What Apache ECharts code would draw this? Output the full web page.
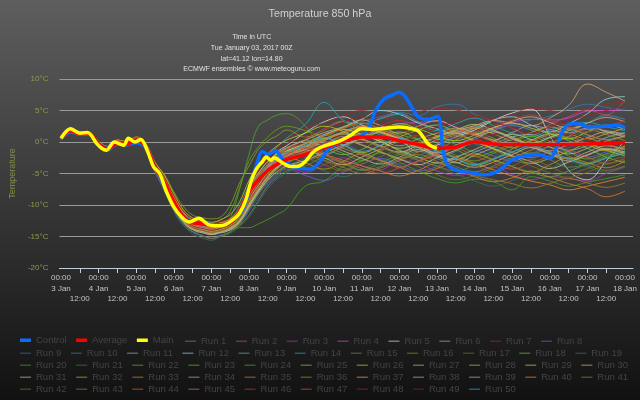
<!DOCTYPE html>
<html>
<head>
<meta charset="utf-8">
<script src="https://cdn.jsdelivr.net/npm/echarts@6/dist/echarts.min.js"></script>
<style>html,body{margin:0;padding:0;background:#111}#c{width:640px;height:400px}</style>
</head>
<body>
<div id="c"></div>
<script>
// ---- data ----
const startDay = 3;
const hours = [0,6,12,18,24,30,36,42,48,54,60,66,72,78,84,90,96,102,108,114,120,126,132,138,144,156,168,180,192,204,216,228,240,252,264,276,288,300,312,324,336,348,360];
const averageValues = [0.6,1.8,1.3,1.3,-0.3,-1.1,-0.2,-0.3,0.3,-0.7,-4.0,-6.5,-9.5,-11.8,-12.8,-13.0,-13.2,-13.2,-12.8,-11.0,-7.9,-6.0,-4.5,-3.5,-2.8,-2.0,-0.9,0.1,0.8,0.8,0.2,-0.4,-1.0,-0.8,0.0,-0.3,-0.4,-0.4,-0.4,-0.4,-0.3,-0.2,-0.1];
const controlHours = [0,6,12,18,24,30,36,42,48,54,60,66,72,78,84,90,96,102,108,114,118,121,124.5,128.6,132,137,141,147.7,154,159.4,164.7,169,173,179.6,186,192,196.5,200.8,206,211,216,220,224,228,234.7,240.5,244,247,254,260,271,279,288,294,305,312,316,319.4,324.7,330,336.4,347,355.5,360];
const controlValues = [0.5,1.6,1.2,1.3,-0.3,-1.0,-0.3,-0.4,-0.1,-0.8,-4.0,-6.8,-9.8,-11.8,-12.7,-12.9,-13.1,-13.2,-12.8,-11.5,-9.5,-6.8,-3.9,-1.5,-2.0,-1.4,-2.6,-3.9,-4.2,-4.3,-3.3,-1.7,-0.7,0.1,0.6,1.0,2.3,5.0,6.8,7.4,7.9,7.1,5.5,4.0,3.6,4.1,-1.5,-3.7,-4.6,-4.8,-5.2,-4.6,-2.8,-2.3,-2.0,-2.6,-1.0,1.3,2.9,2.9,2.4,2.5,2.7,2.2];
const mainHours = [0,6,12,17,23,26,29,34,40,43,47,51,55,59,63,67,72,77,82,88,94,101,105,110,114,118,121,124.5,128.6,131,134,136,141.4,146.7,152,156,160.5,164.7,171,177.4,183.8,192,198.6,207,215.6,222,228.3,234.7,240];
const mainValues = [0.6,2.1,1.4,1.5,-0.3,-1.0,-1.3,0.0,-0.5,0.6,0.0,0.4,-1.3,-3.9,-5.0,-7.7,-10.3,-11.9,-12.7,-12.1,-13.1,-13.3,-13.1,-12.3,-11.3,-9.2,-6.5,-4.4,-3.1,-2.4,-2.9,-2.5,-3.3,-3.9,-3.8,-3.1,-1.7,-1.0,-0.4,0.1,0.9,2.1,2.0,2.2,2.4,2.2,1.7,-0.4,-1.0];
const runValues = [
[0.4,1.7,1.2,1.1,-0.5,-1.3,0.2,-0.5,0.4,-0.9,-4.3,-7.2,-10.4,-12.5,-13.6,-13.9,-14.3,-13.8,-13.2,-11.5,-8.6,-6.2,-4.1,-2.7,-1.8,-0.9,0.5,1.6,2.4,1.1,0.6,-0.8,-2.2,-1.5,0.3,1.8,2.6,1.9,0.7,1.4,3.0,4.2,3.6],
[0.7,2.0,1.5,1.4,-0.2,-0.9,-0.1,-0.2,0.6,-0.5,-3.8,-6.0,-9.0,-11.6,-12.9,-13.4,-13.0,-12.8,-12.5,-10.4,-7.0,-4.8,-3.6,-2.0,-1.2,0.4,2.1,3.3,2.5,3.8,4.5,3.2,2.0,1.1,2.5,3.4,2.2,1.0,2.8,4.0,5.1,4.3,6.7],
[0.5,1.8,1.3,1.2,-0.4,-1.2,-0.3,-0.4,0.2,-0.8,-4.1,-6.6,-9.9,-12.1,-13.3,-13.8,-14.0,-13.6,-13.0,-11.8,-9.1,-7.2,-5.6,-4.2,-3.9,-4.8,-3.6,-2.5,-3.8,-4.4,-2.9,-3.5,-4.6,-5.3,-4.9,-4.0,-5.2,-6.0,-5.5,-5.8,-6.2,-5.0,-4.0],
[0.6,1.9,1.4,1.2,-0.3,-1.0,0.1,-0.3,0.5,-0.6,-3.9,-6.3,-9.3,-11.5,-12.6,-13.1,-13.5,-13.4,-12.9,-11.2,-8.0,-5.9,-4.0,-2.9,-2.0,-1.4,-0.6,0.3,1.0,2.2,2.9,3.1,3.3,2.4,1.7,2.0,3.1,3.6,3.5,3.8,4.9,5.0,5.1],
[0.5,1.8,1.3,1.4,-0.1,-0.8,0.3,0.0,0.7,-0.4,-3.5,-5.8,-8.8,-11.2,-12.4,-12.8,-13.3,-13.4,-13.0,-11.9,-9.5,-6.4,-3.8,-1.6,-0.6,1.5,3.2,4.0,2.7,1.6,0.4,-1.5,-0.5,0.8,1.9,3.4,4.6,5.2,1.0,-4.5,-6.0,-3.0,0.2],
[0.6,1.7,1.2,1.2,-0.4,-1.1,-0.2,-0.5,0.2,-0.9,-4.4,-7.0,-10.1,-12.4,-13.5,-13.6,-13.9,-14.1,-13.7,-12.5,-10.0,-7.8,-5.5,-4.0,-3.0,-1.8,-0.4,0.9,0.4,-0.8,-1.6,-0.4,0.9,1.6,1.2,0.3,1.5,2.6,2.0,1.4,2.2,1.8,1.3],
[0.8,2.1,1.6,1.5,0.0,-0.7,0.2,0.1,0.8,-0.3,-3.3,-5.5,-8.5,-10.9,-12.2,-12.6,-12.8,-12.6,-12.0,-10.3,-6.9,-3.5,-1.6,-0.8,0.4,2.2,3.0,4.2,5.0,4.1,3.4,4.7,5.3,5.1,4.2,3.6,4.4,5.4,5.0,4.5,5.2,6.0,6.4],
[0.5,1.6,1.1,1.1,-0.6,-1.4,-0.5,-0.6,0.1,-1.1,-4.6,-7.5,-10.8,-12.9,-14.3,-14.9,-15.3,-14.8,-14.3,-13.0,-10.8,-8.2,-6.6,-5.2,-4.3,-5.3,-6.1,-4.8,-3.5,-2.6,-3.7,-4.6,-3.9,-2.5,-1.4,-2.2,-3.0,-1.9,-0.8,-1.5,-2.4,-1.6,-0.9],
[0.4,1.6,1.1,1.0,-0.7,-1.5,-0.4,-0.7,0.0,-1.2,-4.8,-7.8,-11.0,-13.2,-14.2,-14.4,-14.6,-14.8,-14.2,-13.1,-11.0,-8.8,-6.9,-5.3,-4.0,-2.6,-1.3,-0.4,-1.6,-2.8,-3.5,-2.2,-0.8,0.6,-0.3,-1.7,-2.8,-3.4,-2.1,-0.9,-0.2,-1.1,-2.0],
[0.6,1.9,1.3,1.3,-0.2,-1.0,0.0,-0.2,0.5,-0.6,-3.9,-6.4,-9.6,-11.9,-13.0,-13.2,-13.5,-13.1,-12.6,-10.9,-7.6,-5.1,-3.2,-2.0,-1.3,-0.5,0.6,1.5,3.2,4.0,4.7,4.2,5.6,6.0,4.4,3.3,2.8,3.5,4.1,5.2,6.0,5.5,5.0],
[0.5,1.8,1.3,1.2,-0.3,-1.1,-0.1,-0.4,0.3,-0.7,-4.0,-6.7,-9.8,-12.1,-13.4,-13.6,-13.3,-13.0,-12.5,-11.0,-8.1,-6.0,-4.8,-3.5,-2.4,-1.2,-2.0,-0.7,0.6,1.8,0.9,-0.5,-1.9,-2.8,-1.6,-0.4,0.8,1.2,0.1,-1.3,-0.6,0.7,1.5],
[0.6,1.7,1.2,1.3,-0.4,-1.2,-0.2,-0.3,0.4,-0.7,-4.2,-6.9,-10.0,-12.2,-13.7,-14.2,-14.5,-14.0,-13.5,-12.6,-10.4,-7.1,-4.3,-2.6,-1.5,-0.2,1.2,2.3,3.6,5.0,4.4,3.0,2.1,1.3,2.2,3.5,4.0,2.7,1.6,2.9,4.5,6.8,7.2],
[0.7,2.0,1.5,1.4,-0.1,-0.9,0.1,-0.1,0.6,-0.5,-3.7,-6.1,-9.2,-11.7,-12.9,-13.3,-13.6,-13.7,-13.3,-12.0,-9.4,-6.8,-4.9,-3.3,-2.3,-1.4,-0.3,1.1,2.3,1.4,0.2,-0.9,0.4,1.6,2.4,1.7,0.5,-0.6,0.8,2.0,1.1,0.4,1.0],
[0.5,1.8,1.3,1.2,-0.3,-1.0,-0.1,-0.3,0.4,-0.8,-4.1,-6.6,-9.4,-11.6,-12.8,-13.0,-13.2,-12.9,-12.2,-10.1,-6.8,-4.2,-2.1,-0.8,0.6,2.8,6.3,3.5,2.9,3.7,4.4,3.2,1.8,2.9,3.8,2.6,1.4,0.8,1.9,2.6,3.1,2.4,1.8],
[0.4,1.6,1.2,1.1,-0.5,-1.3,-0.3,-0.6,0.1,-1.0,-4.5,-7.3,-10.6,-12.8,-13.9,-14.3,-14.6,-14.2,-13.9,-13.2,-11.6,-9.3,-7.0,-5.6,-4.6,-3.8,-2.6,-3.4,-4.5,-3.9,-2.7,-1.5,-2.6,-3.9,-4.7,-3.8,-2.5,-1.7,-2.8,-4.0,-3.4,-2.2,-1.5],
[0.6,1.9,1.4,1.3,-0.2,-1.0,0.0,-0.2,0.5,-0.5,-3.6,-5.6,-8.4,-10.8,-12.0,-12.3,-12.7,-12.4,-11.0,-7.2,-3.0,-0.8,0.8,2.0,2.5,1.8,1.0,2.2,3.0,2.1,1.2,0.3,-0.9,-2.1,-3.0,-1.8,-0.6,0.4,-0.8,-2.2,-3.4,-2.5,-1.4],
[0.5,1.7,1.2,1.2,-0.4,-1.2,-0.2,-0.4,0.3,-0.8,-4.2,-6.8,-10.0,-12.3,-13.4,-13.9,-14.2,-13.9,-13.4,-12.2,-9.8,-7.5,-5.8,-4.4,-3.2,-2.2,-3.0,-4.4,-3.1,-1.8,-2.6,-3.9,-5.2,-6.0,-5.3,-4.1,-3.0,-3.8,-4.9,-5.6,-4.8,-3.6,-2.9],
[0.7,2.0,1.4,1.3,-0.2,-0.9,0.1,-0.1,0.6,-0.4,-3.5,-5.9,-8.9,-11.3,-12.5,-12.9,-13.1,-12.8,-12.2,-10.6,-7.3,-4.9,-3.1,-1.9,-1.0,0.2,-0.9,-2.0,-1.2,0.5,1.6,0.4,-1.0,-2.6,-3.7,-2.8,-1.1,0.3,1.2,0.2,-1.0,-2.4,-3.3],
[0.5,1.8,1.3,1.2,-0.3,-1.1,-0.1,-0.3,0.4,-0.7,-4.0,-6.5,-9.6,-11.9,-13.1,-13.5,-13.8,-13.6,-13.1,-11.7,-8.9,-6.5,-4.6,-3.0,-2.0,-1.0,0.3,1.3,0.5,-0.7,-1.8,-1.1,0.2,1.0,0.3,-0.9,-1.8,-0.6,0.6,1.4,0.8,-0.3,-0.9],
[0.6,1.8,1.3,1.3,-0.3,-1.0,0.0,-0.3,0.4,-0.6,-3.9,-6.3,-9.3,-11.6,-12.8,-13.2,-13.6,-14.1,-14.0,-13.6,-13.6,-13.0,-12.3,-11.5,-10.6,-7.0,-6.2,-3.9,-3.0,-1.7,-3.2,-4.6,-5.8,-6.5,-5.9,-6.3,-7.6,-5.5,-6.2,-7.0,-6.4,-5.8,-5.2],
[0.4,1.6,1.1,1.1,-0.6,-1.4,-0.4,-0.5,0.2,-1.0,-4.5,-7.4,-10.7,-13.0,-14.6,-15.2,-15.6,-15.0,-14.5,-13.4,-11.9,-9.6,-7.4,-5.9,-4.9,-3.7,-4.6,-5.5,-4.3,-3.0,-1.9,-2.8,-4.0,-5.1,-6.2,-7.0,-6.1,-5.0,-4.2,-3.1,-4.0,-4.8,-3.9],
[0.7,2.1,1.5,1.4,-0.1,-0.8,0.2,0.0,0.7,-0.3,-3.3,-5.2,-7.9,-10.2,-11.6,-12.0,-12.2,-11.9,-10.0,-6.5,-3.8,-1.2,0.2,1.0,1.9,0.8,1.9,3.2,1.6,0.3,-1.4,-2.5,-1.3,0.3,1.5,0.6,-0.8,-1.9,-0.6,0.9,2.0,1.2,0.2],
[0.5,1.7,1.2,1.1,-0.4,-1.2,-0.3,-0.5,0.2,-0.9,-4.3,-7.1,-10.3,-12.6,-13.8,-14.1,-14.4,-14.0,-13.6,-12.4,-10.0,-7.7,-5.7,-4.1,-3.3,-2.1,-0.9,-1.8,-2.9,-1.4,0.1,1.0,0.2,-1.2,-2.3,-1.5,-0.2,0.9,-0.3,-1.6,-2.7,-1.9,-1.0],
[0.6,1.9,1.4,1.3,-0.2,-1.0,0.1,-0.2,0.5,-0.6,-3.8,-6.2,-9.1,-11.4,-12.6,-13.0,-13.3,-13.2,-12.0,-7.5,-2.0,2.5,3.5,4.3,4.5,2.5,-1.8,-3.2,-4.4,-3.3,-2.0,-0.8,0.6,-0.4,-1.7,-2.9,-3.9,-4.8,-5.5,-4.6,-3.5,-2.5,-1.9],
[0.5,1.8,1.3,1.2,-0.3,-1.1,-0.2,-0.4,0.3,-0.8,-4.1,-6.7,-9.8,-12.0,-13.2,-13.7,-14.1,-13.9,-13.3,-12.0,-9.2,-6.9,-5.0,-3.4,-2.6,-1.6,-0.5,0.5,1.3,0.4,-0.6,0.5,1.4,2.2,1.4,0.3,-0.9,0.2,1.3,0.6,-0.5,-1.3,-0.7],
[0.8,2.2,1.6,1.5,0.1,-0.7,0.3,0.1,0.8,-0.2,-3.2,-5.3,-8.2,-10.7,-12.1,-12.5,-12.8,-12.3,-11.5,-9.5,-6.1,-3.6,-1.9,-0.6,0.3,1.4,2.5,1.7,0.6,1.8,2.9,2.1,1.0,0.2,1.1,2.3,3.0,2.2,1.3,0.5,1.6,2.7,2.0],
[0.6,1.8,1.3,1.2,-0.3,-1.0,-0.1,-0.3,0.4,-0.7,-4.0,-6.5,-9.7,-12.0,-13.3,-13.8,-14.2,-14.4,-13.9,-12.7,-10.2,-7.9,-5.9,-4.2,-3.0,-1.9,-0.7,0.4,1.1,0.0,-1.3,-2.4,-3.3,-2.4,-1.2,0.1,1.2,0.4,-0.8,-1.9,-1.0,0.1,0.9],
[0.5,1.7,1.2,1.2,-0.4,-1.2,-0.2,-0.4,0.3,-0.8,-4.2,-6.9,-10.1,-12.4,-13.6,-14.0,-14.3,-13.9,-13.2,-11.8,-9.0,-6.6,-4.5,-3.1,-2.1,-0.8,0.6,-0.5,-1.7,-0.6,0.8,1.9,2.7,1.5,0.2,-1.0,-2.2,-3.4,-2.6,-1.5,-0.4,-1.3,-2.2],
[0.7,2.0,1.5,1.4,-0.1,-0.9,0.1,-0.1,0.6,-0.4,-3.6,-5.9,-8.8,-11.2,-12.5,-12.9,-13.2,-13.0,-12.4,-10.8,-7.6,-5.3,-3.6,-2.3,-1.4,-0.3,1.0,2.0,1.2,0.1,-1.0,-0.2,0.9,1.9,2.8,1.9,0.8,-0.2,0.7,1.8,2.6,1.6,0.8],
[0.6,1.9,1.4,1.3,-0.2,-1.0,0.0,-0.2,0.5,-0.6,-3.9,-6.4,-9.5,-11.8,-13.0,-13.4,-13.6,-13.3,-12.8,-11.4,-8.5,-6.2,-4.4,-3.0,-2.2,-1.3,-2.5,-3.6,-2.4,-1.1,0.2,-0.9,-2.1,-3.2,-4.0,-3.2,-2.0,-0.9,-1.8,-2.7,-1.6,-0.6,-1.2],
[0.5,1.7,1.2,1.1,-0.5,-1.3,-0.3,-0.5,0.2,-0.9,-4.4,-7.2,-10.5,-12.7,-13.9,-14.4,-14.7,-14.3,-13.7,-12.5,-9.9,-7.6,-5.5,-4.0,-3.1,-2.0,-0.8,0.4,-0.5,-1.6,-2.7,-3.6,-2.5,-1.3,-0.2,-1.1,-2.2,-3.1,-4.2,-3.2,-2.1,-1.2,-1.8],
[0.6,1.8,1.3,1.3,-0.3,-1.0,0.0,-0.3,0.4,-0.6,-3.9,-6.3,-9.4,-11.7,-12.9,-13.3,-13.5,-13.2,-12.6,-11.1,-8.1,-5.7,-3.9,-2.5,-1.6,-0.6,0.5,1.6,2.4,1.5,0.4,-0.6,0.3,1.4,2.2,1.3,0.4,1.5,2.4,1.4,0.5,1.3,2.2],
[0.7,2.0,1.4,1.4,-0.1,-0.9,0.1,-0.1,0.6,-0.5,-3.6,-5.9,-8.9,-11.3,-12.6,-13.0,-13.3,-13.1,-12.6,-11.3,-8.6,-6.4,-4.7,-3.3,-2.5,-3.3,-4.3,-3.1,-1.9,-2.9,-4.0,-5.0,-4.2,-3.0,-1.9,-2.8,-3.9,-4.8,-3.6,-2.5,-3.3,-4.1,-3.0],
[0.5,1.8,1.3,1.2,-0.3,-1.1,-0.1,-0.3,0.3,-0.7,-4.1,-6.6,-9.7,-12.0,-13.2,-13.6,-13.9,-13.6,-13.1,-11.8,-9.1,-6.8,-4.8,-3.2,-2.3,-1.2,0.2,1.3,0.5,-0.6,-1.6,-0.5,0.7,1.8,2.6,3.4,3.0,2.6,3.8,5.8,9.2,7.9,6.5],
[0.6,1.9,1.3,1.3,-0.2,-1.0,0.0,-0.2,0.5,-0.6,-3.8,-6.2,-9.2,-11.6,-12.8,-13.2,-13.4,-13.1,-12.6,-11.0,-7.9,-5.6,-3.8,-2.5,-1.7,-0.7,-1.9,-2.9,-3.8,-4.6,-5.4,-4.5,-3.4,-4.3,-5.5,-6.3,-5.7,-4.6,-5.6,-6.6,-7.4,-8.7,-7.8],
[0.5,1.7,1.2,1.2,-0.4,-1.2,-0.2,-0.4,0.3,-0.8,-4.2,-6.8,-10.0,-12.3,-13.5,-14.0,-14.4,-14.1,-13.5,-12.3,-9.7,-7.3,-5.3,-3.8,-2.9,-1.8,-0.6,0.6,-0.4,-1.5,-2.6,-1.6,-0.3,1.0,0.1,-1.2,-2.3,-1.3,-0.2,0.8,-0.3,-1.4,-0.6],
[0.7,2.0,1.5,1.4,-0.1,-0.8,0.2,0.0,0.7,-0.4,-3.5,-5.8,-8.7,-11.1,-12.4,-12.8,-13.1,-12.8,-12.2,-10.5,-7.3,-4.9,-3.1,-1.8,-0.9,0.3,1.5,2.4,3.5,2.6,1.4,2.5,3.4,2.3,1.2,2.2,3.3,4.0,3.1,2.2,3.0,3.9,3.2],
[0.6,1.8,1.3,1.2,-0.3,-1.1,-0.1,-0.3,0.4,-0.7,-4.0,-6.6,-9.7,-12.0,-13.2,-13.6,-13.8,-13.5,-12.9,-11.5,-8.7,-6.4,-4.6,-3.2,-2.4,-1.4,-0.3,-1.4,-2.6,-3.5,-2.4,-1.2,-2.3,-3.3,-2.1,-0.9,0.3,-0.8,-1.9,-3.0,-2.0,-1.0,-1.6],
[0.5,1.7,1.2,1.1,-0.5,-1.3,-0.3,-0.5,0.2,-0.9,-4.4,-7.1,-10.4,-12.6,-13.8,-14.2,-14.6,-14.4,-13.9,-12.8,-10.3,-8.0,-6.1,-4.7,-3.8,-2.9,-1.7,-0.5,0.6,1.5,0.5,-0.6,-1.7,-0.5,0.7,1.6,0.6,-0.5,-1.4,-0.4,0.7,1.6,1.0],
[0.6,1.9,1.4,1.3,-0.2,-1.0,0.0,-0.2,0.5,-0.6,-3.8,-6.1,-9.1,-11.5,-12.7,-13.1,-13.4,-13.2,-12.7,-11.2,-8.2,-5.9,-4.0,-2.6,-1.8,-0.8,0.3,1.4,2.5,1.7,0.7,-0.4,-1.4,-2.4,-3.4,-4.4,-5.4,-6.2,-6.8,-7.6,-7.0,-6.3,-5.6],
[0.5,1.8,1.2,1.2,-0.4,-1.2,-0.2,-0.4,0.3,-0.8,-4.1,-6.7,-9.8,-12.1,-13.3,-13.7,-14.0,-13.7,-13.1,-11.8,-9.0,-6.7,-4.9,-3.5,-2.7,-1.8,-2.9,-4.0,-5.0,-4.1,-3.0,-2.0,-3.1,-4.2,-5.3,-6.0,-6.6,-7.3,-6.6,-5.8,-6.5,-7.2,-6.5],
[0.6,1.9,1.4,1.3,-0.2,-0.9,0.1,-0.2,0.5,-0.5,-3.7,-6.0,-9.0,-11.4,-12.6,-13.0,-13.3,-13.0,-12.4,-10.9,-7.8,-5.5,-3.8,-2.4,-1.6,-2.5,-3.6,-4.6,-3.5,-2.3,-1.2,-0.2,-1.3,-2.5,-3.6,-4.7,-3.8,-2.8,-3.9,-5.0,-4.2,-3.1,-2.3],
[0.5,1.7,1.2,1.1,-0.5,-1.3,-0.3,-0.6,0.1,-1.0,-4.5,-7.3,-10.6,-12.8,-14.2,-14.8,-15.3,-14.9,-14.2,-12.9,-10.6,-8.3,-6.3,-4.9,-4.0,-3.1,-2.0,-0.9,0.2,-0.8,-1.9,-2.9,-3.8,-4.6,-3.7,-2.6,-1.6,-0.7,-1.7,-2.8,-3.7,-4.5,-3.8],
[0.7,2.0,1.5,1.4,-0.1,-0.9,0.1,-0.1,0.6,-0.4,-3.5,-5.8,-8.8,-11.2,-12.4,-12.9,-13.2,-12.9,-12.3,-10.7,-7.6,-5.3,-3.5,-2.1,-1.2,-0.2,1.0,2.1,3.0,2.0,0.9,-0.1,1.0,2.0,1.1,0.1,-0.9,0.1,1.2,2.1,1.2,0.3,0.9],
[0.6,1.8,1.3,1.3,-0.3,-1.1,-0.1,-0.3,0.4,-0.7,-4.0,-6.5,-9.6,-11.9,-13.1,-13.5,-13.8,-13.5,-13.0,-11.6,-8.8,-6.5,-4.6,-3.1,-2.2,-1.1,0.1,-1.0,-2.0,-3.0,-4.0,-3.0,-1.9,-0.8,0.3,-0.6,-1.6,-2.5,-1.5,-0.5,0.5,-0.4,-1.2],
[0.5,1.7,1.2,1.2,-0.4,-1.2,-0.2,-0.4,0.3,-0.8,-4.2,-6.9,-10.1,-12.4,-13.6,-14.0,-14.3,-14.0,-13.4,-12.1,-9.4,-7.1,-5.2,-3.7,-2.8,-1.7,-0.5,0.7,1.7,2.6,3.4,2.5,1.5,0.6,1.6,2.6,3.5,4.3,3.4,2.5,1.6,2.5,3.3],
[0.6,1.9,1.4,1.3,-0.2,-1.0,0.0,-0.2,0.5,-0.6,-3.9,-6.4,-9.5,-11.8,-13.0,-13.4,-13.7,-13.4,-12.9,-11.4,-8.5,-6.2,-4.3,-2.9,-2.0,-0.9,-2.1,-3.2,-4.2,-5.0,-4.1,-3.1,-2.1,-1.1,-2.2,-3.3,-4.3,-3.3,-2.3,-1.4,-2.4,-3.4,-2.6],
[0.7,2.1,1.5,1.4,-0.1,-0.8,0.2,0.0,0.7,-0.3,-3.4,-5.6,-8.5,-10.9,-12.2,-12.6,-12.9,-12.6,-12.0,-10.4,-7.1,-4.6,-2.7,-1.3,-0.3,0.9,2.0,3.1,4.0,3.2,2.2,1.2,2.3,3.3,4.1,3.2,2.3,1.4,2.4,3.4,4.2,5.0,5.8],
[0.5,1.8,1.3,1.2,-0.3,-1.1,-0.1,-0.4,0.3,-0.7,-4.1,-6.6,-9.8,-12.1,-13.3,-13.7,-14.0,-13.7,-13.1,-11.7,-8.9,-6.6,-4.7,-3.3,-2.4,-1.4,-0.2,1.0,0.1,-1.0,-0.1,1.0,0.2,-0.8,0.2,1.2,0.3,-0.7,0.3,1.3,0.4,-0.5,0.2],
[0.6,1.9,1.4,1.3,-0.2,-1.0,0.0,-0.2,0.5,-0.6,-3.8,-6.3,-9.3,-11.6,-12.9,-13.3,-13.6,-13.3,-12.8,-11.2,-8.2,-5.8,-3.9,-2.6,-1.7,-0.6,0.7,-0.4,-1.5,-0.5,0.6,-0.4,-1.5,-2.6,-3.6,-2.7,-1.6,-0.6,-1.6,-2.6,-3.5,-2.6,-1.7]
];
const runColors = ['#4a8ab8','#c04a7a','#b030b0','#d040d0','#d8d8d8','#c090c0','#a02828','#6060d0','#3a6a9a','#3a78a8',
'#80b0b0','#90d0d0','#60a890','#20a8b0','#5a8a5a','#6a9a20','#707020','#60c040','#3a7060','#40a020',
'#3a7050','#809a30','#60b020','#50a030','#a8a860','#a8d020','#a8c070','#a0c030','#b0d060','#d0b070',
'#c0c090','#d0a030','#b89020','#d0a070','#d07830','#b08820','#e0a070','#b8b090','#c8a888','#e08830',
'#a07830','#806828','#808030','#d06020','#c07060','#b04030','#d05030','#a02020','#902020','#30a8e0'];
const yMin = -20, yMax = 10, yStep = 5;
const xMax = 360, xStep = 12, dayStep = 24;
const titleText = 'Temperature 850 hPa';
const subtitleLines = ['Time in UTC','Tue January 03, 2017 00Z','lat=41.12 lon=14.80','ECMWF ensembles \u00a9 www.meteoguru.com'];

// ---- chart ----
const FONT = "'Liberation Sans', Arial, sans-serif";
const chart = echarts.init(document.getElementById('c'), null, {renderer: 'canvas', width: 640, height: 400});
function pairs(xs, ys) { return xs.map((x, i) => [x, ys[i]]); }

const series = [];
series.push({name: 'Control', type: 'line', xAxisIndex: 1, yAxisIndex: 1, data: pairs(controlHours, controlValues),
  symbol: 'none', smooth: 0.3, z: 3, lineStyle: {width: 3.5, color: '#0a6cff'}, itemStyle: {color: '#0a6cff'}});
series.push({name: 'Average', type: 'line', xAxisIndex: 1, yAxisIndex: 1, data: pairs(hours, averageValues),
  symbol: 'none', smooth: 0.4, z: 4, lineStyle: {width: 3.5, color: '#ff0000'}, itemStyle: {color: '#ff0000'}});
series.push({name: 'Main', type: 'line', xAxisIndex: 1, yAxisIndex: 1, data: pairs(mainHours, mainValues),
  symbol: 'none', smooth: 0.3, z: 5, lineStyle: {width: 3.5, color: '#ffff00'}, itemStyle: {color: '#ffff00'}});
runValues.forEach((vals, i) => {
  series.push({name: 'Run ' + (i + 1), type: 'line', xAxisIndex: 1, yAxisIndex: 1, data: pairs(hours, vals),
    symbol: 'none', smooth: 0.4, z: 2, lineStyle: {width: 1, color: runColors[i], opacity: 0.85},
    itemStyle: {color: runColors[i]}});
});

const runNames = runValues.map((v, i) => 'Run ' + (i + 1));
// legend rows: [names, left, rowCenter, iconHeight]
const legendRows = [
  [['Control', 'Average', 'Main'], 20, 337, 3.5],
  [runNames.slice(0, 8), 185, 337, 1.5],
  [runNames.slice(8, 19), 20, 349, 1.5],
  [runNames.slice(19, 30), 20, 361, 1.5],
  [runNames.slice(30, 41), 20, 373, 1.5],
  [runNames.slice(41, 50), 20, 385, 1.5]
];
const legends = legendRows.map(r => ({
  left: r[1], top: r[2] - r[3] / 2, orient: 'horizontal', padding: 0,
  icon: 'rect', itemWidth: 11, itemHeight: r[3], itemGap: 9.5,
  textStyle: {color: '#444444', fontSize: 9.5, fontFamily: FONT},
  data: r[0].map(n => ({
    name: n,
    itemStyle: {opacity: n.startsWith('Run') ? 0.5 : 1}
  }))
}));

const labelStyle = {color: '#c4c4c4', fontSize: 8, lineHeight: 10.3, fontFamily: FONT, margin: 5, hideOverlap: false};

const option = {
  animation: false,
  backgroundColor: {type: 'linear', x: 0, y: 0, x2: 0, y2: 1,
    colorStops: [{offset: 0, color: '#5e5e5e'}, {offset: 1, color: '#111111'}]},
  textStyle: {fontFamily: FONT},
  title: [
    {text: titleText, left: 'center', top: 4, textStyle: {color: '#d0d0d0', fontSize: 10.7, fontWeight: 'normal', fontFamily: FONT}},
    {text: subtitleLines.join('\n'), left: 'center', top: 27, textAlign: 'center',
      textStyle: {color: '#e2e2e2', fontSize: 7, lineHeight: 10.7, fontWeight: 'normal', fontFamily: FONT}}
  ],
  legend: legends,
  grid: [
    {left: 56, right: 7, top: 79, bottom: 132},
    {left: 61, right: 12.7, top: 79, bottom: 132}
  ],
  xAxis: [
    {gridIndex: 0, type: 'value', min: 0, max: 1, axisLine: {show: true, onZero: false, lineStyle: {color: '#C0D0E0', width: 1}},
      axisTick: {show: false}, axisLabel: {show: false}, splitLine: {show: false}},
    // ticks every 12 h + the 12:00 labels
    {gridIndex: 1, type: 'value', position: 'bottom', min: 0, max: xMax, interval: xStep,
      axisLine: {show: false, onZero: false}, axisTick: {show: true, length: 5, lineStyle: {color: '#C0D0E0'}},
      splitLine: {show: false},
      axisLabel: Object.assign({}, labelStyle, {showMinLabel: false, showMaxLabel: false,
        formatter: v => (v % dayStep === 0) ? '' : '\n\n12:00'})},
    // 00:00 + date labels every 24 h
    {gridIndex: 1, type: 'value', position: 'bottom', offset: 0, min: 0, max: xMax, interval: dayStep,
      axisLine: {show: false, onZero: false}, axisTick: {show: false}, splitLine: {show: false},
      axisLabel: Object.assign({}, labelStyle, {showMinLabel: true, showMaxLabel: true,
        formatter: v => '00:00\n' + (startDay + v / dayStep) + ' Jan'})}
  ],
  yAxis: [
    {gridIndex: 0, type: 'value', min: yMin, max: yMax, interval: yStep,
      axisLine: {show: false}, axisTick: {show: false},
      axisLabel: {formatter: '{value}°C', color: '#8c9a50', fontSize: 8, margin: 11, fontFamily: FONT},
      splitLine: {lineStyle: {color: '#9a9a9a', width: 1}},
      name: 'Temperature', nameLocation: 'middle', nameGap: 41,
      nameTextStyle: {color: '#7f8e46', fontSize: 9, fontFamily: FONT}},
    {gridIndex: 1, type: 'value', min: yMin, max: yMax, interval: yStep, show: false, splitLine: {show: false}}
  ],
  series: series
};
chart.setOption(option);
</script>
</body>
</html>
